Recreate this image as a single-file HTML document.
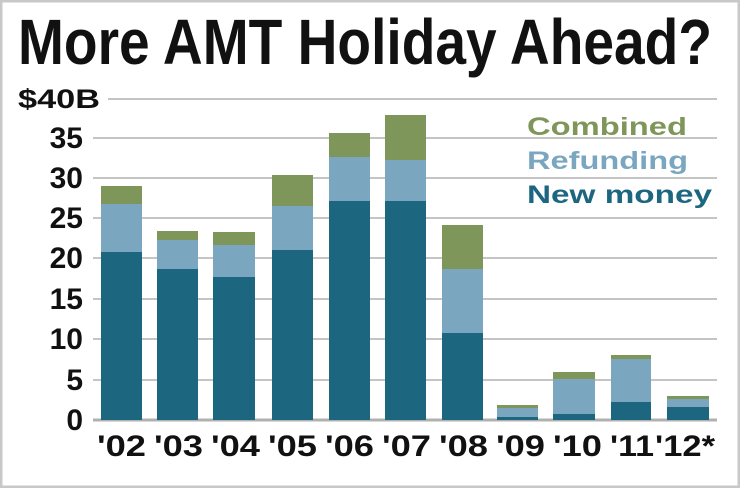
<!DOCTYPE html>
<html><head><meta charset="utf-8"><style>
html,body{margin:0;padding:0;background:#fff;}
svg{display:block;font-family:"Liberation Sans",Arial,sans-serif;font-weight:bold;}
</style></head><body>
<svg width="740" height="488" viewBox="0 0 740 488" xmlns="http://www.w3.org/2000/svg">
<rect x="1" y="1" width="738" height="486" fill="#fff" stroke="#c8c8c8" stroke-width="3"/>
<text x="18" y="64" font-size="64" textLength="694" lengthAdjust="spacingAndGlyphs" fill="#111">More AMT Holiday Ahead?</text>
<g stroke="#c4c4c4" stroke-width="2">
<line x1="108" y1="99" x2="717" y2="99"/>
<line x1="93" y1="138" x2="717" y2="138"/>
<line x1="93" y1="178" x2="717" y2="178"/>
<line x1="93" y1="218" x2="717" y2="218"/>
<line x1="93" y1="258" x2="717" y2="258"/>
<line x1="93" y1="299" x2="717" y2="299"/>
<line x1="93" y1="339" x2="717" y2="339"/>
<line x1="93" y1="380" x2="717" y2="380"/>
</g>
<line x1="93" y1="420" x2="717" y2="420" stroke="#b0b0b0" stroke-width="3"/>
<text x="18" y="108" font-size="27" fill="#111" textLength="82" lengthAdjust="spacingAndGlyphs">$40B</text>
<g font-size="30" fill="#111" text-anchor="end">
<text x="83" y="148">35</text>
<text x="83" y="188">30</text>
<text x="83" y="228">25</text>
<text x="83" y="268">20</text>
<text x="83" y="309">15</text>
<text x="83" y="349">10</text>
<text x="83" y="390">5</text>
<text x="83" y="430">0</text>
</g>
<g>
<rect x="101" y="186" width="41" height="18" fill="#7f965a"/><rect x="101" y="204" width="41" height="48" fill="#7ba6c0"/><rect x="101" y="252" width="41" height="168" fill="#1c6680"/>
<rect x="157" y="231" width="41" height="9" fill="#7f965a"/><rect x="157" y="240" width="41" height="29" fill="#7ba6c0"/><rect x="157" y="269" width="41" height="151" fill="#1c6680"/>
<rect x="213" y="232" width="42" height="13" fill="#7f965a"/><rect x="213" y="245" width="42" height="32" fill="#7ba6c0"/><rect x="213" y="277" width="42" height="143" fill="#1c6680"/>
<rect x="272" y="175" width="41" height="31" fill="#7f965a"/><rect x="272" y="206" width="41" height="44" fill="#7ba6c0"/><rect x="272" y="250" width="41" height="170" fill="#1c6680"/>
<rect x="329" y="133" width="41" height="24" fill="#7f965a"/><rect x="329" y="157" width="41" height="44" fill="#7ba6c0"/><rect x="329" y="201" width="41" height="219" fill="#1c6680"/>
<rect x="385" y="115" width="41" height="45" fill="#7f965a"/><rect x="385" y="160" width="41" height="41" fill="#7ba6c0"/><rect x="385" y="201" width="41" height="219" fill="#1c6680"/>
<rect x="442" y="225" width="41" height="44" fill="#7f965a"/><rect x="442" y="269" width="41" height="64" fill="#7ba6c0"/><rect x="442" y="333" width="41" height="87" fill="#1c6680"/>
<rect x="497" y="405" width="41" height="3" fill="#7f965a"/><rect x="497" y="408" width="41" height="9" fill="#7ba6c0"/><rect x="497" y="417" width="41" height="3" fill="#1c6680"/>
<rect x="553" y="372" width="42" height="7" fill="#7f965a"/><rect x="553" y="379" width="42" height="35" fill="#7ba6c0"/><rect x="553" y="414" width="42" height="6" fill="#1c6680"/>
<rect x="611" y="355" width="40" height="4" fill="#7f965a"/><rect x="611" y="359" width="40" height="43" fill="#7ba6c0"/><rect x="611" y="402" width="40" height="18" fill="#1c6680"/>
<rect x="667" y="396" width="42" height="3" fill="#7f965a"/><rect x="667" y="399" width="42" height="8" fill="#7ba6c0"/><rect x="667" y="407" width="42" height="13" fill="#1c6680"/>
</g>
<g font-size="30" fill="#111">
<text x="97" y="456" textLength="49" lengthAdjust="spacingAndGlyphs">'02</text>
<text x="154" y="456" textLength="49" lengthAdjust="spacingAndGlyphs">'03</text>
<text x="211" y="456" textLength="49" lengthAdjust="spacingAndGlyphs">'04</text>
<text x="268" y="456" textLength="49" lengthAdjust="spacingAndGlyphs">'05</text>
<text x="325" y="456" textLength="49" lengthAdjust="spacingAndGlyphs">'06</text>
<text x="382" y="456" textLength="49" lengthAdjust="spacingAndGlyphs">'07</text>
<text x="439" y="456" textLength="49" lengthAdjust="spacingAndGlyphs">'08</text>
<text x="496" y="456" textLength="49" lengthAdjust="spacingAndGlyphs">'09</text>
<text x="553" y="456" textLength="49" lengthAdjust="spacingAndGlyphs">'10</text>
<text x="610" y="456" textLength="44" lengthAdjust="spacingAndGlyphs">'11</text>
<text x="655" y="456" textLength="60" lengthAdjust="spacingAndGlyphs">'12*</text>
</g>
<g font-size="25">
<text x="527" y="135" fill="#7f965a" textLength="160" lengthAdjust="spacingAndGlyphs">Combined</text>
<text x="527" y="169" fill="#7ba6c0" textLength="161" lengthAdjust="spacingAndGlyphs">Refunding</text>
<text x="527" y="203" fill="#1c6680" textLength="185" lengthAdjust="spacingAndGlyphs">New money</text>
</g>
</svg>
</body></html>
